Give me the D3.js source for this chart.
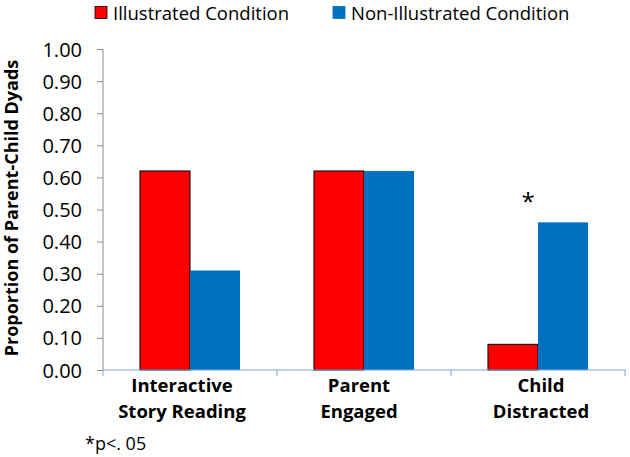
<!DOCTYPE html>
<html><head><meta charset="utf-8">
<script src="https://cdn.jsdelivr.net/npm/d3@7"></script>
<style>body{margin:0;background:#fff}svg{display:block}text{font-family:"Open Sans",sans-serif;fill:#000}</style>
</head><body><svg id="c" width="630" height="457"></svg>
<script>
const categories = [["Interactive","Story Reading"],["Parent","Engaged"],["Child","Distracted"]];
const catKeys = ["Interactive Story Reading","Parent Engaged","Child Distracted"];
const seriesNames = ["Illustrated Condition","Non-Illustrated Condition"];
const illustrated = [0.62, 0.62, 0.08];
const nonIllustrated = [0.31, 0.62, 0.46];
const yTicks = [0,0.1,0.2,0.3,0.4,0.5,0.6,0.7,0.8,0.9,1.0];
const significant = [false,false,true];
const colors = ["#FF0000","#0070C0"];

const svg = d3.select("#c");
const x0 = d3.scaleBand().domain(catKeys).range([103,625]).paddingInner(0.425).paddingOuter(0.2125);
const x1 = d3.scaleBand().domain(seriesNames).range([0,x0.bandwidth()]);
const y = d3.scaleLinear().domain([0,1]).range([370,49]);

// y axis
const ya = svg.append("g").attr("transform","translate(103,0)")
  .call(d3.axisLeft(y).tickValues(yTicks).tickFormat(d3.format(".2f")).tickSize(6).tickPadding(15));
ya.select(".domain").attr("stroke","#8c8c8c").attr("d","M0,49V370");
ya.selectAll(".tick line").attr("stroke","#8c8c8c");
ya.selectAll(".tick text").style("font-size","20px").attr("dy","0.35em");

// bars
const data = catKeys.map((k,i)=>({k, vals:[illustrated[i], nonIllustrated[i]]}));
const g = svg.append("g");
data.forEach(d=>{
  d.vals.forEach((v,j)=>{
    g.append("rect")
      .attr("x", x0(d.k)+x1(seriesNames[j]))
      .attr("y", y(v))
      .attr("width", x1.bandwidth())
      .attr("height", y(0)-y(v))
      .attr("fill", colors[j])
      .attr("stroke", j===0 ? "#000" : "none")
      .attr("stroke-width", 1);
  });
});

// x axis
const xa = svg.append("g").attr("transform","translate(0,370)");
xa.append("line").attr("x1",103).attr("x2",626).attr("y1",0).attr("y2",0).attr("stroke","#7FA7D8").attr("stroke-width",1.2);
const bounds = catKeys.map(k=>x0(k)-x0.step()*x0.paddingInner()/2);
bounds[0]=103; bounds.push(625);
xa.selectAll("line.t").data(bounds).join("line").attr("class","t")
  .attr("x1",d=>d).attr("x2",d=>d).attr("y1",0).attr("y2",6).attr("stroke","#7FA7D8");

// category labels
const labelShift = [-8,-5,3];
categories.forEach((lines,i)=>{
  const cx = x0(catKeys[i]) + x0.bandwidth()/2 + labelShift[i];
  lines.forEach((t,li)=>{
    svg.append("text").attr("x",cx).attr("y",392+li*26).attr("text-anchor","middle")
      .style("font-size","18.5px").style("font-weight","bold").text(t);
  });
});

// significance
significant.forEach((s,i)=>{
  if(!s) return;
  const cx = x0(catKeys[i]) + x1.bandwidth()*0.8;
  svg.append("text").attr("x",cx).attr("y",210).attr("text-anchor","middle")
    .style("font-size","24px").text("*");
});

// y label
svg.append("text").attr("transform","translate(18,208) rotate(-90)").attr("text-anchor","middle")
  .style("font-size","18px").style("font-weight","bold").text("Proportion of Parent-Child Dyads");

// legend
const legX = [95,333];
seriesNames.forEach((n,j)=>{
  svg.append("rect").attr("x",legX[j]).attr("y",6.5).attr("width",12).attr("height",12)
    .attr("fill",colors[j]).attr("stroke", j===0?"#000":colors[j]).attr("stroke-width",0.8);
  svg.append("text").attr("x",legX[j]+18).attr("y",19.5).style("font-size","18.5px").text(n);
});

// footnote
svg.append("text").attr("x",85).attr("y",450).style("font-size","18px").text("*p<. 05");
</script></body></html>
